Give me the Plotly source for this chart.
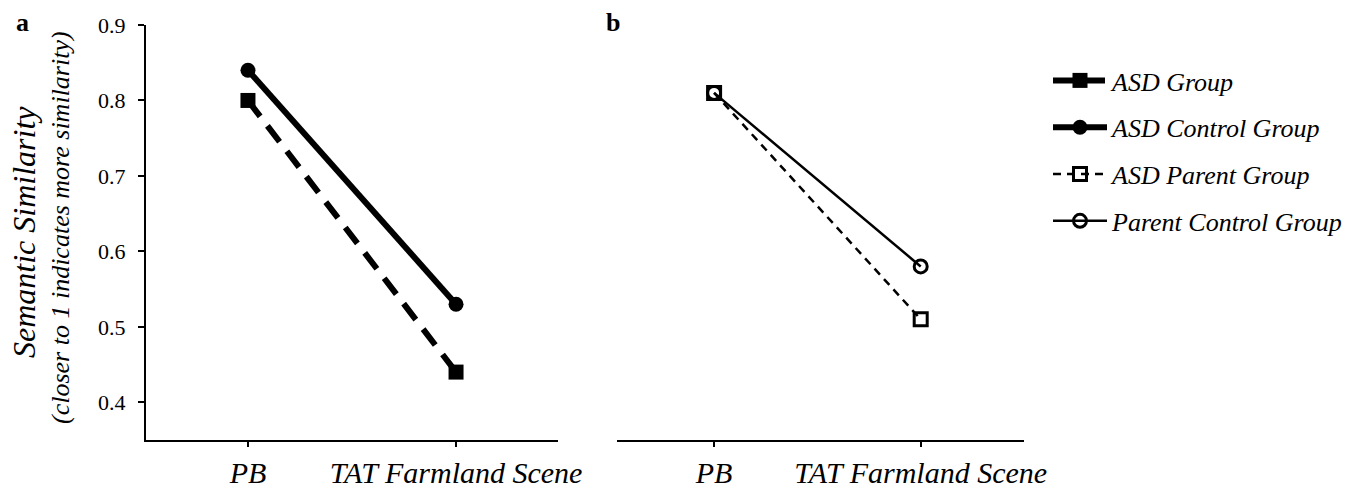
import plotly.graph_objects as go

categories = ["PB", "TAT Farmland Scene"]
asd_group = [0.80, 0.44]
asd_control = [0.84, 0.53]
asd_parent = [0.81, 0.51]
parent_control = [0.81, 0.58]
y_ticks = [0.4, 0.5, 0.6, 0.7, 0.8, 0.9]

W, H = 1369, 489
FONT = "Liberation Serif, Times New Roman, serif"

fig = go.Figure()

# Panel a
fig.add_trace(go.Scatter(
    x=categories, y=asd_group, name="<i>ASD Group</i>", mode="lines+markers",
    line=dict(color="black", width=6, dash="20px,12px"),
    marker=dict(symbol="square", size=15, color="black"),
    xaxis="x", yaxis="y", legendgroup="g1"))
fig.add_trace(go.Scatter(
    x=categories, y=asd_control, name="<i>ASD Control Group</i>", mode="lines+markers",
    line=dict(color="black", width=6),
    marker=dict(symbol="circle", size=15, color="black"),
    xaxis="x", yaxis="y", legendgroup="g2"))
# Panel b
fig.add_trace(go.Scatter(
    x=categories, y=asd_parent, name="<i>ASD Parent Group</i>", mode="lines+markers",
    line=dict(color="black", width=2.5, dash="8px,6px"),
    marker=dict(symbol="square-open", size=13, color="black", line=dict(width=3)),
    xaxis="x2", yaxis="y2", legendgroup="g3"))
fig.add_trace(go.Scatter(
    x=categories, y=parent_control, name="<i>Parent Control Group</i>", mode="lines+markers",
    line=dict(color="black", width=2.5),
    marker=dict(symbol="circle-open", size=13, color="black", line=dict(width=3)),
    xaxis="x2", yaxis="y2", legendgroup="g4"))

ydom = [(H - 440) / H, (H - 25) / H]
common_x = dict(
    type="category", showline=True, linecolor="black", linewidth=2,
    ticks="outside", ticklen=5, tickwidth=1.5, tickcolor="black",
    showgrid=False, zeroline=False, automargin=False,
    tickfont=dict(family=FONT, size=30, color="black"),
)
fig.update_layout(
    width=W, height=H,
    margin=dict(l=0, r=0, t=0, b=0, autoexpand=False),
    paper_bgcolor="white", plot_bgcolor="white",
    showlegend=True,
    xaxis=dict(domain=[146 / W, 558 / W], range=[-0.49, 1.49],
               tickvals=categories, ticktext=["<i>" + c + "</i>" for c in categories],
               anchor="y", **common_x),
    xaxis2=dict(domain=[617 / W, 1024 / W], range=[-0.47, 1.5],
                tickvals=categories, ticktext=["<i>" + c + "</i>" for c in categories],
                anchor="y2", **common_x),
    yaxis=dict(domain=ydom, range=[0.35, 0.9], tickvals=y_ticks,
               ticktext=[f"{v:.1f}" for v in y_ticks],
               showline=True, linecolor="black", linewidth=2,
               ticks="outside", ticklen=6, tickwidth=1.5, tickcolor="black",
               ticklabelstandoff=8, automargin=False,
               showgrid=False, zeroline=False, anchor="x",
               tickfont=dict(family=FONT, size=22, color="black")),
    yaxis2=dict(domain=ydom, range=[0.35, 0.9], showline=False, showticklabels=False,
                ticks="", showgrid=False, zeroline=False, anchor="x2", automargin=False),
    legend=dict(x=1048 / W, y=(H - 57) / H, xanchor="left", yanchor="top",
                font=dict(family=FONT, size=26, color="black"),
                tracegroupgap=10, itemwidth=54, bgcolor="rgba(0,0,0,0)",
                traceorder="grouped"),
    annotations=[
        dict(text="<b>a</b>", x=14 / W, y=(H - 22) / H, xref="paper", yref="paper",
             xanchor="left", yanchor="middle", showarrow=False,
             font=dict(family=FONT, size=26, color="black")),
        dict(text="<b>b</b>", x=604 / W, y=(H - 22) / H, xref="paper", yref="paper",
             xanchor="left", yanchor="middle", showarrow=False,
             font=dict(family=FONT, size=26, color="black")),
        dict(text="<i>Semantic Similarity</i>", x=24 / W, y=(H - 232) / H,
             xref="paper", yref="paper", xanchor="center", yanchor="middle",
             textangle=-90, showarrow=False,
             font=dict(family=FONT, size=32, color="black")),
        dict(text="<i>(closer to 1 indicates more similarity)</i>", x=60 / W, y=(H - 228) / H,
             xref="paper", yref="paper", xanchor="center", yanchor="middle",
             textangle=-90, showarrow=False,
             font=dict(family=FONT, size=26, color="black")),
    ],
)

fig.write_html("out.html", config={"displayModeBar": False},
               post_script="document.body.style.margin='0px';document.body.style.overflow='hidden';")
